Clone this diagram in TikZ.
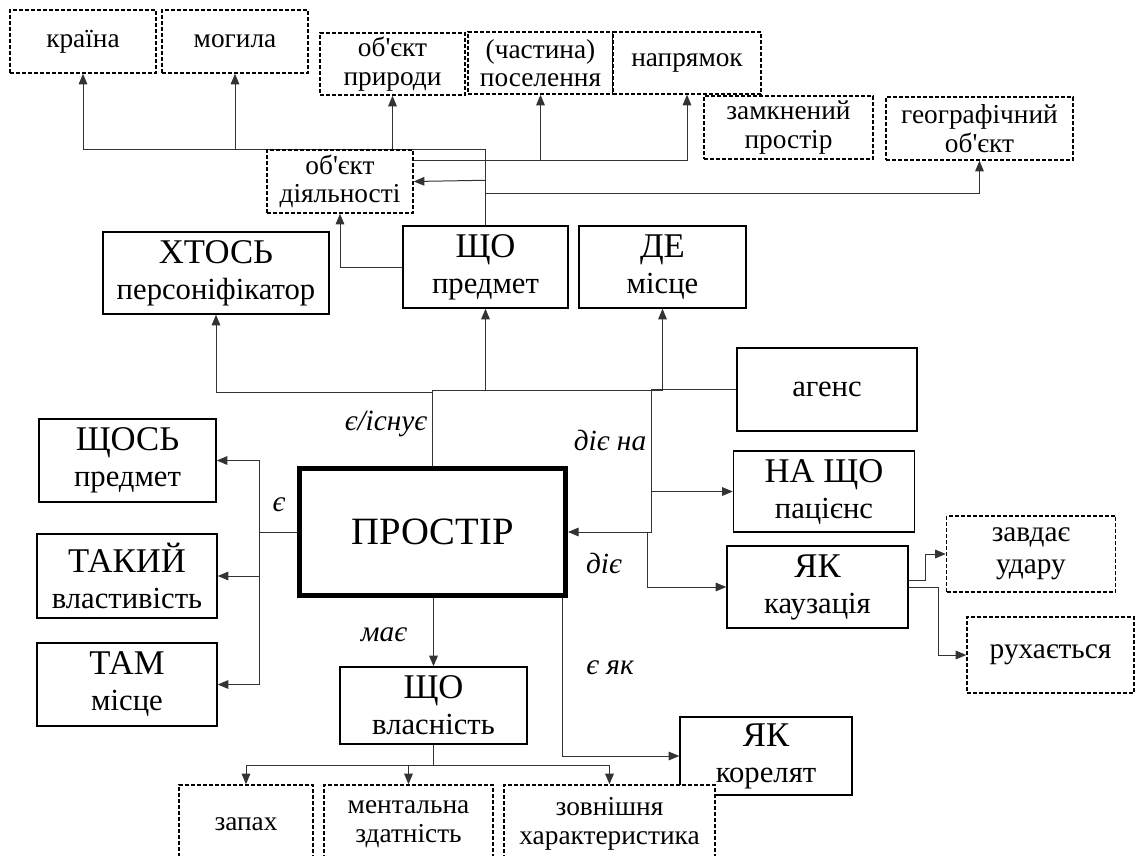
\documentclass[tikz,border=0pt]{standalone}
\usepackage{fontspec}
\setmainfont{Liberation Serif}
\usetikzlibrary{arrows.meta}
\usetikzlibrary{backgrounds}

\newcommand{\fdash}{\fontsize{20.5}{21.5}\selectfont}
\newcommand{\fdashb}{\fontsize{22}{24}\selectfont}
\newcommand{\fup}{\fontsize{26}{27}\selectfont}
\newcommand{\flow}{\fontsize{23}{27}\selectfont}
\newcommand{\fmain}{\fontsize{29}{30}\selectfont}
\newcommand{\flab}{\itshape\fontsize{22}{24}\selectfont}
\newcommand{\ap}{\textquotesingle}

\tikzset{
  sbox/.style={draw, line width=1.1pt, fill=white, align=center, inner sep=0pt, font=\flow},
  dbox/.style={draw, line width=1.1pt, dash pattern=on 3pt off 1.5pt, fill=white,
               align=center, inner sep=0pt, font=\fdash},
  boxsize/.style 2 args={minimum width=#1*0.75pt, minimum height=#2*0.75pt},
  ln/.style={line width=0.75pt, draw=black!80},
  arr/.style={ln, -{Triangle[length=8pt,width=6.5pt]}},
  lbl/.style={font=\flab, inner sep=0pt},
}

\begin{document}
\begin{tikzpicture}[x=0.75pt,y=0.75pt,yscale=-1,xscale=1]
  \useasboundingbox (0,0) rectangle (1135,856);
  \clip (0,0) rectangle (1135,856);
  % top row
  \node (kraina)     at (83,41.5)    [dbox, boxsize={146}{63}] {країна};
  \node (mohyla)     at (235,41.5)   [dbox, boxsize={146}{63}] {могила};
  \node (pryroda)    at (392.5,64)   [dbox, boxsize={145}{62}] {об\ap єкт\\природи};
  \node (poselennia) at (540.5,63)   [dbox, boxsize={145}{62}] {(частина)\\поселення};
  \node (napriamok)  at (687,63)     [dbox, boxsize={148}{62}] {напрямок};
  \node (zamknenyi)  at (788.5,127.5) [dbox, boxsize={169}{63}] {замкнений\\простір};
  \node (heohr)      at (979.5,128.5) [dbox, boxsize={187}{63}] {географічний\\об\ap єкт};
  \node (diial)      at (340,181.5)  [dbox, boxsize={146}{63}] {об\ap єкт\\діяльності};
  % upper solid boxes
  \node (xtos)  at (216,273)   [sbox, boxsize={226}{82}] {{\fup ХТОСЬ}\\персоніфікатор};
  \node (shcho) at (485.5,267) [sbox, boxsize={165}{82}] {{\fup ЩО}\\предмет};
  \node (de)    at (662.5,267) [sbox, boxsize={167}{82}] {{\fup ДЕ}\\місце};
  % right side
  \node (agens)   at (827,389.5)   [sbox, boxsize={180}{83}] {агенс};
  \node (nashcho) at (824,491.5)   [sbox, boxsize={181}{81}] {{\fup НА ЩО}\\пацієнс};
  \node (yakkaus) at (817.5,587)   [sbox, boxsize={181}{82}] {{\fup ЯК}\\каузація};
  \node (zavdaie) at (1031,554)    [dbox, boxsize={169}{76}, font=\fdashb] {завдає\\удару};
  \node (rukh)    at (1050.5,655)  [dbox, boxsize={167}{76}, font=\fdashb] {рухається};
  % left side
  \node (shchos) at (127.5,460.5) [sbox, boxsize={177}{83}] {{\fup ЩОСЬ}\\предмет};
  \node (takyi)  at (127,576)     [sbox, boxsize={180}{84}] {{\fup ТАКИЙ}\\властивість};
  \node (tam)    at (127,684.5)   [sbox, boxsize={180}{83}] {{\fup ТАМ}\\місце};
  % centre
  \node (prostir) at (432.5,532) [sbox, line width=3.75pt, boxsize={266}{127}, font=\fmain] {ПРОСТІР};
  \node (vlast)   at (433.5,705.5) [sbox, boxsize={187}{77}] {{\fup ЩО}\\власність};
  \node (korel)   at (766,756)   [sbox, boxsize={172}{78}] {{\fup ЯК}\\корелят};
  % bottom row
  \node (zapakh) at (246,824)   [dbox, boxsize={134}{78}] {запах};
  \node (mental) at (408.5,824) [dbox, boxsize={169}{78}] {ментальна\\здатність};
  \node (zovn)   at (609.5,824) [dbox, boxsize={211}{78}] {зовнішня\\характеристика};
  % labels
  \node (l_isnuie) at (386,424) [lbl] {є/існує};
  \node (l_diiena) at (610,440) [lbl] {діє на};
  \node (l_diie)   at (604,563) [lbl] {діє};
  \node (l_yak)    at (610,668) [lbl] {є як};
  \node (l_ie)     at (279,505) [lbl] {є};
  \node (l_maie)   at (384,635) [lbl] {має};

  \begin{scope}[on background layer]
    % from ЩО upwards
    \draw[ln]  (shcho.north) -- ++(0,-76) coordinate (t1);
    \draw[arr] (t1) -| (kraina.south);
    \draw[arr] (t1) -| (mohyla.south);
    \draw[arr] (t1) -| (pryroda.south);
    \draw[arr] (diial.north east) ++(0,11) -| (poselennia.south);
    \draw[arr] (diial.north east) ++(0,11) -| (napriamok.south);
    \draw[arr] (shcho.north) ++(0,-45) -- (diial.east);
    \draw[arr] (shcho.north) ++(0,-32) -| (heohr.south);
    \draw[arr] (shcho.west) -| (diial.south);
    % є/існує
    \draw[ln]  (prostir.north) -- ++(0,-76) coordinate (t2);
    \draw[arr] (t2) -| (shcho.south);
    \draw[arr] (t2) -| (de.south);
    \draw[arr] (t2) ++(0,2) -| (xtos.south);
    % агенс
    \draw[arr] (agens.west) -- ++(-85,0) coordinate (t3) |- (prostir.east);
    \draw[arr] (t3 |- nashcho.west) -- (nashcho.west);
    \draw[arr] (t3 |- prostir.east) ++(-4,0) |- (yakkaus.west);
    \draw[arr] (yakkaus.east) ++(0,-7) -- ++(17,0) |- (zavdaie.west);
    \draw[arr] (yakkaus.east) -- ++(30,0) |- (rukh.west);
    % є
    \draw[ln]  (prostir.west) -- ++(-38,0) coordinate (t4);
    \draw[arr] (t4) |- (shchos.east);
    \draw[arr] (t4) |- (takyi.east);
    \draw[arr] (t4) |- (tam.east);
    % має, є як
    \draw[arr] (prostir.south -| vlast.north) -- (vlast.north);
    \draw[ln]  (vlast.south) -- ++(0,21) coordinate (t5);
    \draw[arr] (t5) -| (zapakh.north);
    \draw[arr] (t5) -| (mental.north);
    \draw[arr] (t5) -| (zovn.north);
    \draw[arr] ([xshift=-4pt]prostir.south east) |- (korel.west);
  \end{scope}
\end{tikzpicture}
\end{document}
